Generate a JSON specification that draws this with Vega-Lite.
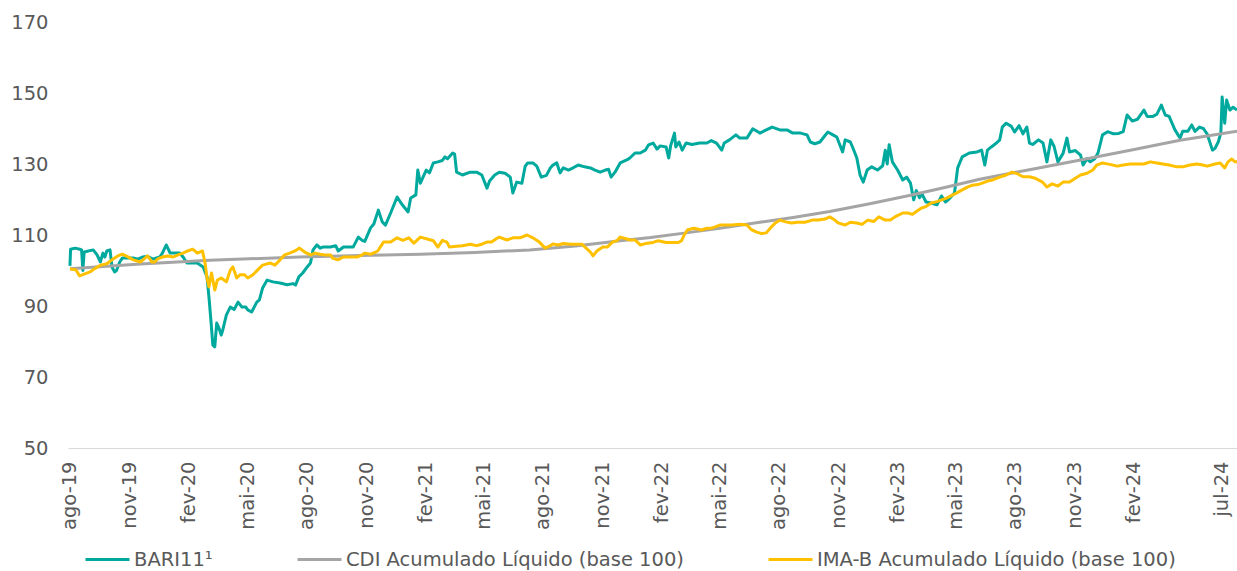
{
  "$schema": "https://vega.github.io/schema/vega-lite/v6.json",
  "width": 1169,
  "height": 426,
  "autosize": "none",
  "padding": {"left": 68, "top": 22, "right": 0, "bottom": 123},
  "background": "white",
  "config": {"view": {"stroke": null}, "font": "DejaVu Sans"},
  "datasets": {
    "bari": [
      {"d":"2019-08-01","v":101.3},{"d":"2019-08-02","v":106.0},{"d":"2019-08-09","v":106.3},{"d":"2019-08-16","v":106.0},{"d":"2019-08-19","v":105.8},{"d":"2019-08-21","v":100.0},{"d":"2019-08-23","v":105.2},
      {"d":"2019-09-06","v":105.8},{"d":"2019-09-12","v":104.4},{"d":"2019-09-17","v":102.4},{"d":"2019-09-21","v":104.9},{"d":"2019-09-24","v":103.8},{"d":"2019-09-27","v":105.5},
      {"d":"2019-10-02","v":105.8},{"d":"2019-10-05","v":101.0},{"d":"2019-10-09","v":99.6},{"d":"2019-10-12","v":100.0},{"d":"2019-10-17","v":102.4},{"d":"2019-10-21","v":103.5},
      {"d":"2019-11-07","v":103.5},{"d":"2019-11-14","v":103.2},{"d":"2019-11-22","v":103.8},{"d":"2019-11-29","v":104.0},
      {"d":"2019-12-07","v":103.2},{"d":"2019-12-18","v":103.8},{"d":"2019-12-22","v":104.9},{"d":"2019-12-28","v":107.2},
      {"d":"2020-01-03","v":104.9},{"d":"2020-01-18","v":104.9},{"d":"2020-01-23","v":103.8},{"d":"2020-01-29","v":102.1},
      {"d":"2020-02-14","v":102.1},{"d":"2020-02-19","v":101.5},{"d":"2020-02-23","v":101.0},{"d":"2020-02-29","v":98.2},
      {"d":"2020-03-03","v":92.5},{"d":"2020-03-06","v":86.0},{"d":"2020-03-09","v":79.0},{"d":"2020-03-12","v":78.5},{"d":"2020-03-15","v":85.2},{"d":"2020-03-18","v":84.0},{"d":"2020-03-22","v":81.8},{"d":"2020-03-24","v":83.0},{"d":"2020-03-30","v":87.5},
      {"d":"2020-04-05","v":89.7},{"d":"2020-04-11","v":89.0},{"d":"2020-04-17","v":91.1},{"d":"2020-04-23","v":89.7},{"d":"2020-04-29","v":89.7},
      {"d":"2020-05-02","v":88.9},{"d":"2020-05-08","v":88.3},{"d":"2020-05-16","v":91.1},{"d":"2020-05-20","v":91.7},{"d":"2020-05-25","v":95.1},
      {"d":"2020-06-01","v":97.3},{"d":"2020-06-10","v":96.8},{"d":"2020-06-21","v":96.5},
      {"d":"2020-07-02","v":96.0},{"d":"2020-07-11","v":96.3},{"d":"2020-07-15","v":95.9},{"d":"2020-07-20","v":98.2},{"d":"2020-07-26","v":99.3},
      {"d":"2020-08-02","v":101.0},{"d":"2020-08-07","v":102.1},{"d":"2020-08-11","v":105.8},{"d":"2020-08-17","v":107.2},{"d":"2020-08-22","v":106.3},{"d":"2020-08-26","v":106.6},
      {"d":"2020-09-07","v":106.6},{"d":"2020-09-15","v":107.0},{"d":"2020-09-19","v":105.5},{"d":"2020-09-27","v":106.6},
      {"d":"2020-10-12","v":106.6},{"d":"2020-10-20","v":109.4},{"d":"2020-10-26","v":108.5},{"d":"2020-10-30","v":108.2},
      {"d":"2020-11-08","v":112.0},{"d":"2020-11-13","v":113.1},{"d":"2020-11-20","v":117.0},{"d":"2020-11-26","v":113.7},
      {"d":"2020-12-01","v":112.8},{"d":"2020-12-09","v":116.2},{"d":"2020-12-19","v":120.7},{"d":"2020-12-27","v":118.5},
      {"d":"2021-01-05","v":116.5},{"d":"2021-01-09","v":120.4},{"d":"2021-01-17","v":121.3},{"d":"2021-01-20","v":128.3},{"d":"2021-01-24","v":124.6},
      {"d":"2021-02-02","v":128.3},{"d":"2021-02-07","v":127.5},{"d":"2021-02-13","v":130.3},{"d":"2021-02-20","v":130.6},{"d":"2021-02-27","v":131.0},
      {"d":"2021-03-03","v":132.0},{"d":"2021-03-07","v":131.5},{"d":"2021-03-15","v":133.1},{"d":"2021-03-18","v":132.8},{"d":"2021-03-21","v":127.7},{"d":"2021-03-30","v":126.9},
      {"d":"2021-04-11","v":127.7},{"d":"2021-04-21","v":127.7},{"d":"2021-04-29","v":126.9},
      {"d":"2021-05-07","v":123.2},{"d":"2021-05-11","v":125.2},{"d":"2021-05-19","v":126.9},{"d":"2021-05-26","v":127.7},
      {"d":"2021-06-04","v":127.4},{"d":"2021-06-12","v":126.3},{"d":"2021-06-16","v":121.8},{"d":"2021-06-22","v":124.9},{"d":"2021-06-30","v":124.6},
      {"d":"2021-07-05","v":129.3},{"d":"2021-07-09","v":130.3},{"d":"2021-07-17","v":130.3},{"d":"2021-07-23","v":129.4},{"d":"2021-07-30","v":126.3},
      {"d":"2021-08-07","v":126.8},{"d":"2021-08-13","v":128.9},{"d":"2021-08-17","v":129.7},{"d":"2021-08-23","v":130.3},{"d":"2021-08-28","v":127.5},
      {"d":"2021-09-02","v":128.9},{"d":"2021-09-10","v":128.3},{"d":"2021-09-18","v":129.0},{"d":"2021-09-25","v":129.7},
      {"d":"2021-10-05","v":129.2},{"d":"2021-10-14","v":128.9},{"d":"2021-10-21","v":128.3},{"d":"2021-10-29","v":127.7},
      {"d":"2021-11-06","v":128.3},{"d":"2021-11-11","v":128.5},{"d":"2021-11-15","v":126.3},{"d":"2021-11-21","v":127.7},{"d":"2021-11-29","v":130.3},
      {"d":"2021-12-10","v":131.2},{"d":"2021-12-14","v":131.7},{"d":"2021-12-22","v":133.1},{"d":"2021-12-30","v":133.1},
      {"d":"2022-01-07","v":133.9},{"d":"2022-01-12","v":135.4},{"d":"2022-01-19","v":135.9},{"d":"2022-01-25","v":134.2},{"d":"2022-01-30","v":135.1},
      {"d":"2022-02-08","v":134.8},{"d":"2022-02-12","v":131.7},{"d":"2022-02-15","v":135.1},{"d":"2022-02-21","v":138.7},{"d":"2022-02-23","v":134.8},{"d":"2022-02-28","v":136.2},
      {"d":"2022-03-05","v":133.9},{"d":"2022-03-11","v":135.9},{"d":"2022-03-20","v":135.5},
      {"d":"2022-04-01","v":135.9},{"d":"2022-04-12","v":135.9},{"d":"2022-04-19","v":136.6},{"d":"2022-04-27","v":135.9},
      {"d":"2022-05-05","v":133.9},{"d":"2022-05-09","v":135.9},{"d":"2022-05-17","v":136.8},{"d":"2022-05-27","v":138.2},
      {"d":"2022-06-02","v":137.3},{"d":"2022-06-13","v":137.3},{"d":"2022-06-22","v":139.9},{"d":"2022-06-28","v":139.3},
      {"d":"2022-07-03","v":138.7},{"d":"2022-07-13","v":139.6},{"d":"2022-07-22","v":140.4},
      {"d":"2022-08-03","v":139.6},{"d":"2022-08-14","v":139.6},{"d":"2022-08-23","v":138.7},
      {"d":"2022-09-04","v":138.7},{"d":"2022-09-14","v":138.2},{"d":"2022-09-19","v":136.2},{"d":"2022-09-26","v":135.7},
      {"d":"2022-10-04","v":136.2},{"d":"2022-10-10","v":137.6},{"d":"2022-10-16","v":139.0},{"d":"2022-10-24","v":138.2},{"d":"2022-10-30","v":137.6},
      {"d":"2022-11-08","v":133.4},{"d":"2022-11-12","v":136.8},{"d":"2022-11-20","v":136.2},{"d":"2022-11-24","v":134.5},{"d":"2022-11-30","v":131.7},
      {"d":"2022-12-05","v":126.9},{"d":"2022-12-10","v":124.9},{"d":"2022-12-16","v":128.3},{"d":"2022-12-23","v":129.2},
      {"d":"2023-01-01","v":128.3},{"d":"2023-01-09","v":129.5},{"d":"2023-01-13","v":133.9},{"d":"2023-01-16","v":130.0},{"d":"2023-01-19","v":135.4},{"d":"2023-01-24","v":130.6},
      {"d":"2023-02-01","v":128.3},{"d":"2023-02-09","v":125.5},{"d":"2023-02-15","v":126.3},{"d":"2023-02-21","v":124.6},{"d":"2023-02-26","v":119.9},
      {"d":"2023-03-02","v":122.5},{"d":"2023-03-07","v":120.5},{"d":"2023-03-11","v":121.5},{"d":"2023-03-17","v":119.3},{"d":"2023-03-25","v":119.0},
      {"d":"2023-04-03","v":118.5},{"d":"2023-04-10","v":121.0},{"d":"2023-04-16","v":119.3},{"d":"2023-04-22","v":120.2},{"d":"2023-04-30","v":121.8},
      {"d":"2023-05-05","v":128.9},{"d":"2023-05-12","v":132.0},{"d":"2023-05-23","v":133.1},
      {"d":"2023-06-04","v":133.4},{"d":"2023-06-11","v":133.9},{"d":"2023-06-16","v":129.7},{"d":"2023-06-20","v":133.9},{"d":"2023-06-26","v":134.8},
      {"d":"2023-07-04","v":135.9},{"d":"2023-07-09","v":136.8},{"d":"2023-07-13","v":140.4},{"d":"2023-07-19","v":141.5},{"d":"2023-07-27","v":140.6},
      {"d":"2023-08-01","v":139.0},{"d":"2023-08-08","v":140.8},{"d":"2023-08-14","v":138.5},{"d":"2023-08-20","v":140.4},{"d":"2023-08-24","v":135.9},{"d":"2023-08-29","v":135.5},
      {"d":"2023-09-07","v":136.8},{"d":"2023-09-14","v":135.9},{"d":"2023-09-20","v":130.6},{"d":"2023-09-26","v":136.8},
      {"d":"2023-10-01","v":135.0},{"d":"2023-10-07","v":130.6},{"d":"2023-10-15","v":133.0},{"d":"2023-10-21","v":137.3},{"d":"2023-10-25","v":133.4},
      {"d":"2023-11-03","v":133.8},{"d":"2023-11-11","v":132.5},{"d":"2023-11-15","v":129.7},{"d":"2023-11-21","v":131.5},{"d":"2023-11-26","v":130.6},
      {"d":"2023-12-03","v":131.5},{"d":"2023-12-08","v":133.1},{"d":"2023-12-15","v":138.2},{"d":"2023-12-23","v":139.1},
      {"d":"2024-01-01","v":138.5},{"d":"2024-01-09","v":138.6},{"d":"2024-01-16","v":139.1},{"d":"2024-01-22","v":143.8},{"d":"2024-01-30","v":142.1},
      {"d":"2024-02-07","v":142.6},{"d":"2024-02-17","v":145.2},{"d":"2024-02-22","v":143.4},
      {"d":"2024-03-02","v":143.4},{"d":"2024-03-08","v":144.0},{"d":"2024-03-15","v":146.6},{"d":"2024-03-21","v":143.8},{"d":"2024-03-27","v":143.4},
      {"d":"2024-04-05","v":139.6},{"d":"2024-04-13","v":137.3},{"d":"2024-04-17","v":139.2},{"d":"2024-04-25","v":139.2},
      {"d":"2024-05-01","v":141.0},{"d":"2024-05-06","v":139.2},{"d":"2024-05-13","v":140.4},{"d":"2024-05-19","v":140.0},{"d":"2024-05-25","v":138.4},
      {"d":"2024-06-02","v":133.9},{"d":"2024-06-06","v":134.4},{"d":"2024-06-11","v":136.2},{"d":"2024-06-15","v":138.7},{"d":"2024-06-17","v":148.9},{"d":"2024-06-21","v":141.5},{"d":"2024-06-24","v":148.0},{"d":"2024-06-29","v":145.2},
      {"d":"2024-07-04","v":146.0},{"d":"2024-07-10","v":145.2}
    ],
    "cdi": [
      {"d":"2019-08-01","v":100.5},{"d":"2019-11-18","v":101.8},{"d":"2020-03-04","v":102.9},{"d":"2020-07-21","v":103.8},{"d":"2020-10-23","v":104.2},
      {"d":"2021-01-24","v":104.6},{"d":"2021-04-18","v":105.1},{"d":"2021-07-12","v":105.8},{"d":"2021-09-21","v":106.9},{"d":"2021-11-29","v":108.4},
      {"d":"2022-01-15","v":109.3},{"d":"2022-03-11","v":110.6},{"d":"2022-05-02","v":111.9},{"d":"2022-07-03","v":113.6},{"d":"2022-08-26","v":115.0},
      {"d":"2022-10-19","v":116.6},{"d":"2022-12-20","v":118.8},{"d":"2023-02-21","v":121.2},{"d":"2023-04-15","v":123.4},{"d":"2023-06-08","v":125.7},
      {"d":"2023-08-24","v":128.4},{"d":"2023-11-11","v":131.1},{"d":"2024-01-27","v":133.9},{"d":"2024-04-13","v":136.7},{"d":"2024-07-10","v":139.2}
    ],
    "imab": [
      {"d":"2019-08-01","v":100.4},{"d":"2019-08-10","v":100.2},{"d":"2019-08-16","v":98.5},{"d":"2019-08-23","v":99.0},
      {"d":"2019-09-01","v":99.6},{"d":"2019-09-09","v":100.6},{"d":"2019-09-17","v":101.5},{"d":"2019-09-27","v":101.9},
      {"d":"2019-10-05","v":103.0},{"d":"2019-10-14","v":104.1},{"d":"2019-10-21","v":104.6},{"d":"2019-10-29","v":103.9},
      {"d":"2019-11-07","v":103.0},{"d":"2019-11-18","v":102.4},{"d":"2019-11-22","v":103.0},{"d":"2019-11-29","v":104.1},
      {"d":"2019-12-06","v":102.4},{"d":"2019-12-10","v":102.4},{"d":"2019-12-15","v":103.3},{"d":"2019-12-22","v":103.8},{"d":"2019-12-30","v":104.1},
      {"d":"2020-01-08","v":103.8},{"d":"2020-01-15","v":104.4},{"d":"2020-01-23","v":104.9},{"d":"2020-01-30","v":105.5},
      {"d":"2020-02-07","v":106.0},{"d":"2020-02-14","v":104.9},{"d":"2020-02-22","v":105.5},{"d":"2020-02-26","v":102.1},{"d":"2020-02-29","v":97.9},
      {"d":"2020-03-03","v":95.4},{"d":"2020-03-07","v":99.3},{"d":"2020-03-12","v":94.5},{"d":"2020-03-16","v":97.3},{"d":"2020-03-22","v":97.9},{"d":"2020-03-30","v":96.8},
      {"d":"2020-04-05","v":100.1},{"d":"2020-04-09","v":101.0},{"d":"2020-04-15","v":97.9},{"d":"2020-04-20","v":98.8},{"d":"2020-04-27","v":98.8},
      {"d":"2020-05-02","v":97.9},{"d":"2020-05-10","v":98.8},{"d":"2020-05-17","v":100.1},{"d":"2020-05-25","v":101.5},
      {"d":"2020-06-06","v":102.1},{"d":"2020-06-13","v":101.5},{"d":"2020-06-21","v":103.0},{"d":"2020-06-28","v":104.4},
      {"d":"2020-07-06","v":104.9},{"d":"2020-07-14","v":105.5},{"d":"2020-07-21","v":106.3},{"d":"2020-07-29","v":105.2},
      {"d":"2020-08-07","v":104.4},{"d":"2020-08-14","v":104.9},{"d":"2020-08-22","v":104.6},{"d":"2020-08-29","v":104.4},
      {"d":"2020-09-07","v":104.4},{"d":"2020-09-10","v":103.5},{"d":"2020-09-18","v":103.0},{"d":"2020-09-27","v":103.8},
      {"d":"2020-10-08","v":103.8},{"d":"2020-10-18","v":103.8},{"d":"2020-10-26","v":104.4},{"d":"2020-10-30","v":104.9},
      {"d":"2020-11-08","v":104.6},{"d":"2020-11-16","v":105.2},{"d":"2020-11-19","v":105.5},{"d":"2020-11-28","v":108.0},
      {"d":"2020-12-09","v":108.0},{"d":"2020-12-19","v":109.2},{"d":"2020-12-28","v":108.5},
      {"d":"2021-01-06","v":109.2},{"d":"2021-01-14","v":107.7},{"d":"2021-01-24","v":109.4},
      {"d":"2021-02-05","v":108.8},{"d":"2021-02-13","v":108.4},{"d":"2021-02-20","v":106.6},{"d":"2021-02-27","v":108.5},
      {"d":"2021-03-06","v":108.0},{"d":"2021-03-10","v":106.6},{"d":"2021-03-21","v":106.8},{"d":"2021-03-30","v":107.0},
      {"d":"2021-04-11","v":107.4},{"d":"2021-04-21","v":107.0},{"d":"2021-04-29","v":107.4},
      {"d":"2021-05-07","v":108.0},{"d":"2021-05-14","v":108.0},{"d":"2021-05-22","v":109.0},{"d":"2021-05-26","v":109.4},
      {"d":"2021-06-07","v":108.6},{"d":"2021-06-16","v":109.2},{"d":"2021-06-27","v":109.2},
      {"d":"2021-07-08","v":110.0},{"d":"2021-07-17","v":109.2},{"d":"2021-07-27","v":108.0},
      {"d":"2021-08-05","v":106.3},{"d":"2021-08-13","v":107.0},{"d":"2021-08-17","v":107.5},{"d":"2021-08-25","v":107.2},
      {"d":"2021-09-02","v":107.6},{"d":"2021-09-13","v":107.4},{"d":"2021-09-24","v":107.4},
      {"d":"2021-10-01","v":107.4},{"d":"2021-10-09","v":106.0},{"d":"2021-10-14","v":105.2},{"d":"2021-10-18","v":104.1},{"d":"2021-10-24","v":105.5},
      {"d":"2021-11-02","v":106.6},{"d":"2021-11-09","v":106.6},{"d":"2021-11-17","v":108.0},{"d":"2021-11-24","v":108.4},{"d":"2021-11-29","v":109.4},
      {"d":"2021-12-07","v":109.0},{"d":"2021-12-14","v":108.6},{"d":"2021-12-22","v":108.6},{"d":"2021-12-30","v":107.2},
      {"d":"2022-01-10","v":107.7},{"d":"2022-01-19","v":107.9},{"d":"2022-01-27","v":108.4},
      {"d":"2022-02-08","v":107.9},{"d":"2022-02-18","v":107.9},{"d":"2022-02-27","v":107.9},
      {"d":"2022-03-04","v":108.4},{"d":"2022-03-08","v":110.0},{"d":"2022-03-13","v":111.4},{"d":"2022-03-23","v":111.9},
      {"d":"2022-04-04","v":111.4},{"d":"2022-04-12","v":111.9},{"d":"2022-04-19","v":111.9},{"d":"2022-04-25","v":112.3},
      {"d":"2022-05-02","v":112.8},{"d":"2022-05-12","v":112.8},{"d":"2022-05-21","v":112.8},
      {"d":"2022-06-02","v":113.0},{"d":"2022-06-13","v":112.8},{"d":"2022-06-20","v":111.5},{"d":"2022-06-28","v":110.8},
      {"d":"2022-07-06","v":110.4},{"d":"2022-07-13","v":110.6},{"d":"2022-07-21","v":112.3},{"d":"2022-07-27","v":113.4},
      {"d":"2022-08-03","v":114.2},{"d":"2022-08-12","v":113.7},{"d":"2022-08-21","v":113.4},{"d":"2022-08-30","v":113.6},
      {"d":"2022-09-11","v":113.6},{"d":"2022-09-22","v":114.2},
      {"d":"2022-10-01","v":114.2},{"d":"2022-10-12","v":114.5},{"d":"2022-10-19","v":115.1},{"d":"2022-10-27","v":114.2},
      {"d":"2022-11-01","v":113.4},{"d":"2022-11-12","v":112.8},{"d":"2022-11-20","v":113.6},{"d":"2022-11-30","v":113.4},
      {"d":"2022-12-08","v":113.0},{"d":"2022-12-17","v":114.2},{"d":"2022-12-26","v":113.8},
      {"d":"2023-01-03","v":115.1},{"d":"2023-01-13","v":114.2},{"d":"2023-01-21","v":114.2},{"d":"2023-01-28","v":115.1},
      {"d":"2023-02-09","v":116.2},{"d":"2023-02-17","v":116.2},{"d":"2023-02-24","v":115.8},
      {"d":"2023-03-02","v":116.6},{"d":"2023-03-10","v":117.6},{"d":"2023-03-17","v":118.0},{"d":"2023-03-25","v":119.0},
      {"d":"2023-04-03","v":119.4},{"d":"2023-04-10","v":119.9},{"d":"2023-04-18","v":120.4},{"d":"2023-04-25","v":121.1},
      {"d":"2023-05-03","v":121.8},{"d":"2023-05-12","v":122.7},{"d":"2023-05-20","v":123.5},{"d":"2023-05-27","v":124.0},
      {"d":"2023-06-05","v":124.2},{"d":"2023-06-13","v":124.7},{"d":"2023-06-20","v":125.2},{"d":"2023-06-28","v":125.5},
      {"d":"2023-07-09","v":126.3},{"d":"2023-07-19","v":126.9},{"d":"2023-07-28","v":127.7},
      {"d":"2023-08-06","v":127.2},{"d":"2023-08-14","v":126.4},{"d":"2023-08-24","v":126.4},
      {"d":"2023-09-02","v":126.0},{"d":"2023-09-13","v":124.9},{"d":"2023-09-20","v":123.5},{"d":"2023-09-28","v":124.4},
      {"d":"2023-10-07","v":123.8},{"d":"2023-10-15","v":124.9},{"d":"2023-10-25","v":124.9},
      {"d":"2023-11-03","v":126.0},{"d":"2023-11-11","v":126.9},{"d":"2023-11-21","v":127.4},{"d":"2023-11-30","v":128.3},
      {"d":"2023-12-06","v":129.7},{"d":"2023-12-15","v":130.3},{"d":"2023-12-26","v":129.9},
      {"d":"2024-01-07","v":129.4},{"d":"2024-01-16","v":129.7},{"d":"2024-01-27","v":130.0},
      {"d":"2024-02-07","v":130.0},{"d":"2024-02-17","v":130.0},{"d":"2024-02-27","v":130.6},
      {"d":"2024-03-08","v":130.3},{"d":"2024-03-17","v":130.0},{"d":"2024-03-27","v":129.7},
      {"d":"2024-04-08","v":129.2},{"d":"2024-04-17","v":129.2},{"d":"2024-04-28","v":129.7},
      {"d":"2024-05-09","v":130.0},{"d":"2024-05-18","v":129.7},{"d":"2024-05-25","v":129.4},
      {"d":"2024-06-06","v":130.0},{"d":"2024-06-14","v":130.3},{"d":"2024-06-21","v":128.9},{"d":"2024-06-26","v":130.6},
      {"d":"2024-07-02","v":131.4},{"d":"2024-07-07","v":130.6},{"d":"2024-07-10","v":130.6}
    ]
  },
  "encoding": {
    "x": {
      "field": "d",
      "type": "temporal",
      "scale": {
        "type": "utc",
        "domain": [{"year": 2019, "month": 7, "date": 29, "utc": true}, {"year": 2024, "month": 7, "date": 10, "utc": true}]
      },
      "axis": {
        "title": null,
        "values": [
          {"year":2019,"month":8,"date":1,"utc":true},{"year":2019,"month":11,"date":1,"utc":true},
          {"year":2020,"month":2,"date":1,"utc":true},{"year":2020,"month":5,"date":1,"utc":true},{"year":2020,"month":8,"date":1,"utc":true},{"year":2020,"month":11,"date":1,"utc":true},
          {"year":2021,"month":2,"date":1,"utc":true},{"year":2021,"month":5,"date":1,"utc":true},{"year":2021,"month":8,"date":1,"utc":true},{"year":2021,"month":11,"date":1,"utc":true},
          {"year":2022,"month":2,"date":1,"utc":true},{"year":2022,"month":5,"date":1,"utc":true},{"year":2022,"month":8,"date":1,"utc":true},{"year":2022,"month":11,"date":1,"utc":true},
          {"year":2023,"month":2,"date":1,"utc":true},{"year":2023,"month":5,"date":1,"utc":true},{"year":2023,"month":8,"date":1,"utc":true},{"year":2023,"month":11,"date":1,"utc":true},
          {"year":2024,"month":2,"date":1,"utc":true},{"year":2024,"month":7,"date":1,"utc":true}
        ],
        "labelExpr": "['jan','fev','mar','abr','mai','jun','jul','ago','set','out','nov','dez'][utcmonth(datum.value)] + '-' + utcFormat(datum.value, '%y')",
        "labelAngle": -90,
        "labelBaseline": {"condition": {"test": "utcyear(datum.value) == 2024 && utcmonth(datum.value) == 6", "value": "bottom"}, "value": "middle"},
        "labelPadding": 13,
        "labelFontSize": 19.5,
        "labelFont": "DejaVu Sans",
        "labelColor": "#595959",
        "labelOverlap": false,
        "labelFlush": false,
        "labelBound": false,
        "ticks": false,
        "grid": false,
        "domainColor": "#D9D9D9",
        "domainWidth": 1
      }
    },
    "y": {
      "field": "v",
      "type": "quantitative",
      "scale": {"domain": [50, 170], "nice": false, "zero": false},
      "axis": {
        "title": null,
        "values": [50, 70, 90, 110, 130, 150, 170],
        "labelPadding": 20,
        "labelFontSize": 19.5,
        "labelFont": "DejaVu Sans",
        "labelColor": "#595959",
        "ticks": false,
        "domain": false,
        "grid": false
      }
    }
  },
  "layer": [
    {
      "data": {"name": "bari"},
      "mark": {"type": "line", "strokeWidth": 3, "strokeJoin": "round"},
      "encoding": {
        "color": {
          "datum": "BARI11¹",
          "type": "nominal",
          "scale": {
            "domain": ["BARI11¹", "CDI Acumulado Líquido (base 100)", "IMA-B Acumulado Líquido (base 100)"],
            "range": ["#00A99D", "#A5A5A5", "#FFC000"]
          },
          "legend": {
            "title": null,
            "orient": "none",
            "legendX": 16,
            "legendY": 514,
            "direction": "horizontal",
            "symbolType": "stroke",
            "symbolSize": 1936,
            "symbolStrokeWidth": 3,
            "labelFontSize": 19.5,
            "labelFont": "DejaVu Sans",
            "labelColor": "#595959",
            "labelOffset": 3,
            "labelLimit": 0,
            "columnPadding": 78,
            "padding": 0
          }
        }
      }
    },
    {
      "data": {"name": "cdi"},
      "mark": {"type": "line", "strokeWidth": 3, "strokeJoin": "round"},
      "encoding": {"color": {"datum": "CDI Acumulado Líquido (base 100)", "type": "nominal"}}
    },
    {
      "data": {"name": "imab"},
      "mark": {"type": "line", "strokeWidth": 3, "strokeJoin": "round"},
      "encoding": {"color": {"datum": "IMA-B Acumulado Líquido (base 100)", "type": "nominal"}}
    }
  ]
}
